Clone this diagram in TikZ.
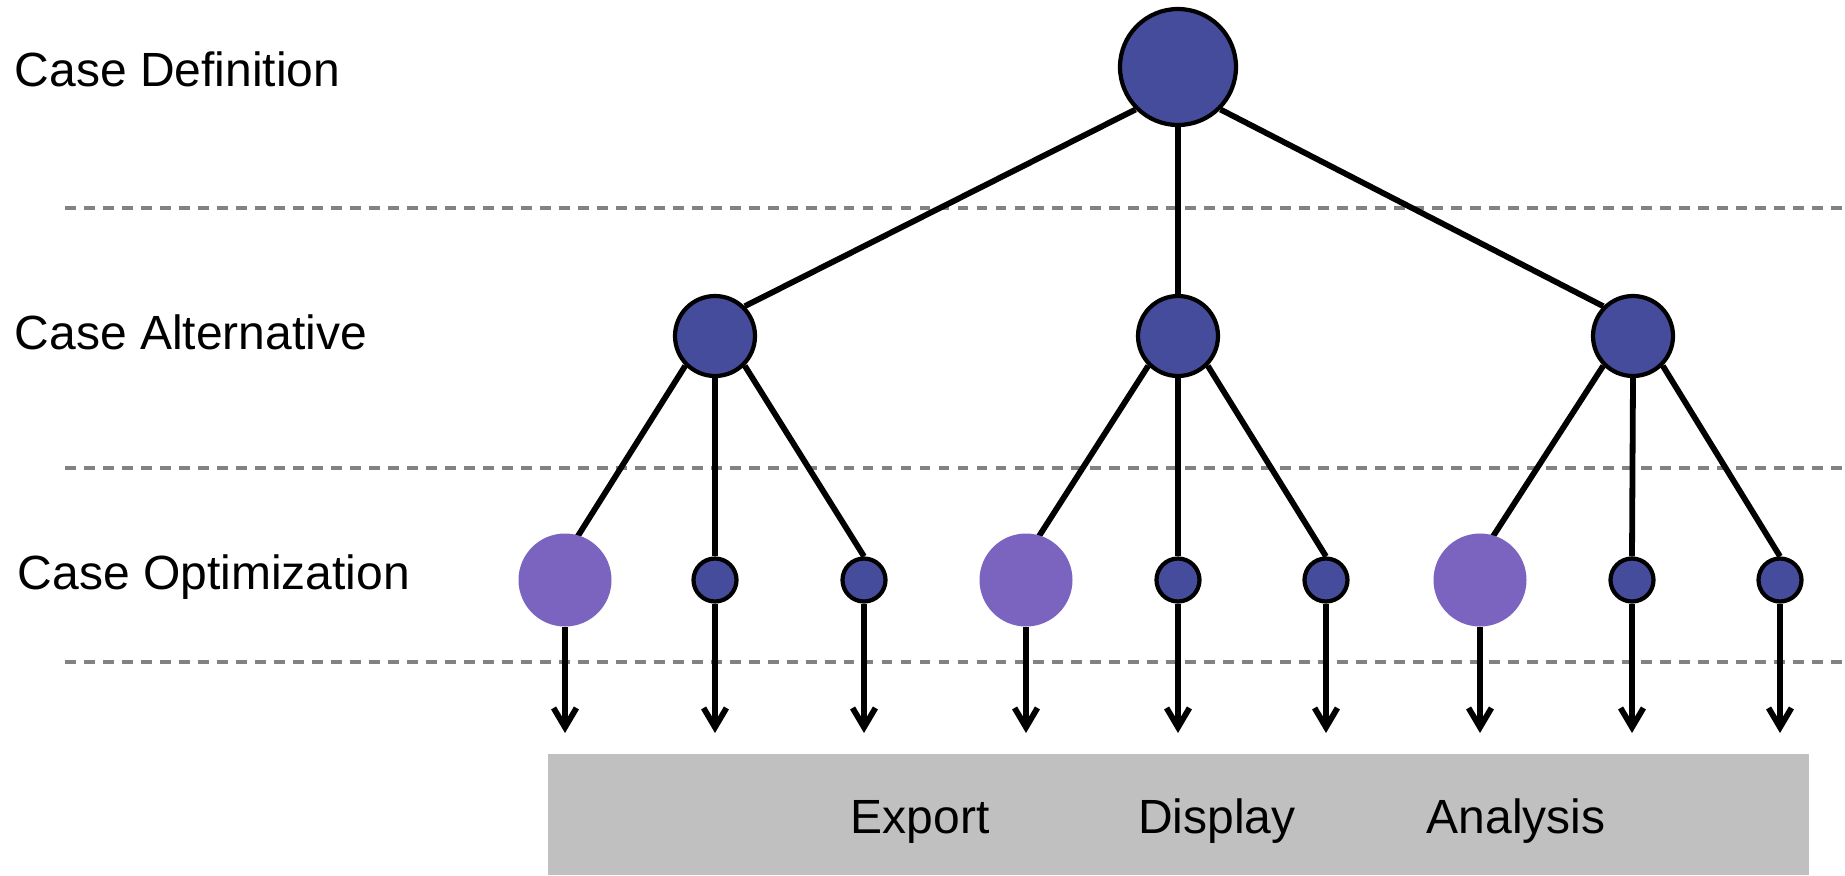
\documentclass[tikz,border=0pt]{standalone}
\usepackage{fontspec}
\setmainfont{Liberation Sans}
\usetikzlibrary{arrows.meta,backgrounds}
\definecolor{nodeblue}{RGB}{70,76,156}
\definecolor{nodepurple}{RGB}{123,100,192}
\definecolor{dashgray}{RGB}{130,130,130}
\definecolor{boxgray}{RGB}{192,192,192}
\begin{document}
\begin{tikzpicture}[x=0.01cm,y=-0.01cm,
  bignode/.style={circle,draw=black,line width=1.2pt,fill=nodeblue,inner sep=0pt,minimum size=116*0.01cm},
  midnode/.style={circle,draw=black,line width=1.2pt,fill=nodeblue,inner sep=0pt,minimum size=80*0.01cm},
  smallnode/.style={circle,draw=black,line width=1.2pt,fill=nodeblue,inner sep=0pt,minimum size=43*0.01cm},
  optnode/.style={circle,fill=nodepurple,inner sep=0pt,minimum size=93*0.01cm},
  edge/.style={line width=1.65pt,black},
  outarrow/.style={line width=1.65pt,black,-{Straight Barb[length=5.5pt,width=6.5pt,line width=1.65pt]}},
  sep/.style={dashgray,line width=0.9pt,dash pattern=on 3.1pt off 2.3pt},
  lbl/.style={font=\fontsize{13.65}{16}\selectfont,inner sep=0pt},
]
\useasboundingbox (0,0) rectangle (1845,875);
% output box
\fill[boxgray] (548,754) rectangle (1809,875);
% labels
\node[lbl,anchor=base west] (l1) at (14,86) {Case Definition};
\node[lbl,anchor=base west] (l2) at (14,349) {Case Alternative};
\node[lbl,anchor=base west] (l3) at (17,589) {Case Optimization};
\node[lbl,anchor=base] (o1) at (920,833) {Export};
\node[lbl,anchor=base] (o2) at (1217,833) {Display};
\node[lbl,anchor=base] (o3) at (1516,833) {Analysis};
% nodes
\node[bignode] (r) at (1178,67) {};
\node[midnode] (a) at (715,336) {};
\node[midnode] (b) at (1178,336) {};
\node[midnode] (c) at (1633,336) {};
\node[optnode] (a1) at (565,580) {};
\node[smallnode] (a2) at (715,580) {};
\node[smallnode] (a3) at (864,580) {};
\node[optnode] (b1) at (1026,580) {};
\node[smallnode] (b2) at (1178,580) {};
\node[smallnode] (b3) at (1326,580) {};
\node[optnode] (c1) at (1480,580) {};
\node[smallnode] (c2) at (1632,580) {};
\node[smallnode] (c3) at (1780,580) {};
\begin{pgfonlayer}{background}
% separators
\draw[sep] (65,208) -- (1845,208);
\draw[sep] (65,468) -- (1845,468);
\draw[sep] (65,662) -- (1845,662);
% edges
\draw[edge] (r.south west) -- (a.north east);
\draw[edge] (r.south) -- (b.north);
\draw[edge] (r.south east) -- (c.north west);
\foreach \p in {a,b,c}{
  \coordinate (\p1-top) at ([yshift=0.235cm]\p1.center);
  \draw[edge] (\p.south west) -- (\p1-top);
  \draw[edge] (\p.south) -- (\p2.north);
  \draw[edge] (\p.south east) -- (\p3.north);
}
\end{pgfonlayer}
% output arrows
\foreach \n in {a1,a2,a3,b1,b2,b3,c1,c2,c3}{
  \coordinate (\n-end) at (\n |- 0,733);
  \draw[outarrow] (\n.south) -- (\n-end);
}
\end{tikzpicture}
\end{document}
